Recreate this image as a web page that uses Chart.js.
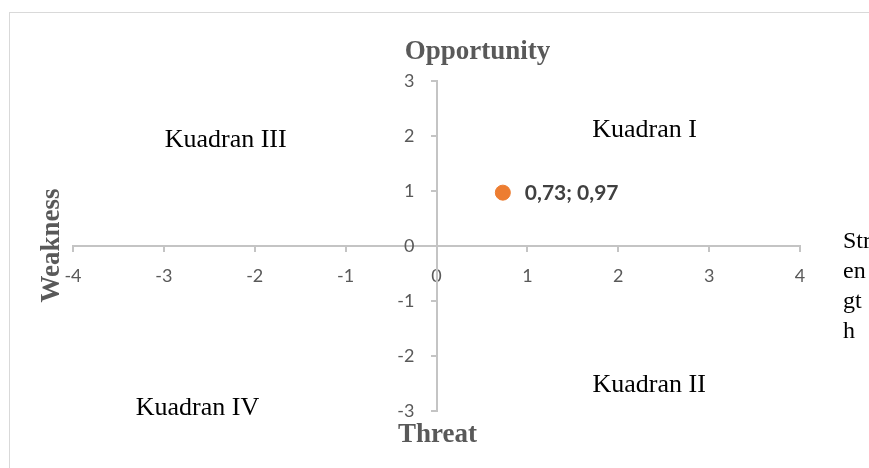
<!DOCTYPE html>
<html>
<head>
<meta charset="utf-8">
<script src="https://cdn.jsdelivr.net/npm/chart.js@4/dist/chart.umd.min.js"></script>
<style>
  html, body { margin: 0; padding: 0; background: #ffffff; }
  #wrap { width: 869px; height: 468px; position: relative; }
</style>
</head>
<body>
<div id="wrap"><canvas id="swot"></canvas></div>
<script>
// SWOT position: internal (Strength - Weakness) vs external (Opportunity - Threat)
const pointX = [0.73];
const pointY = [0.97];
const pointLabels = ['0,73; 0,97'];

const xTicks = [-4, -3, -2, -1, 0, 1, 2, 3, 4];
const yTicks = [-3, -2, -1, 0, 1, 2, 3];

const quadrantNames = ['Kuadran I', 'Kuadran II', 'Kuadran III', 'Kuadran IV'];

// where each quadrant caption sits, in axis units
const quadrantAnchor = [
  { x: 2.29, y: 2.11 },
  { x: 2.34, y: -2.53 },
  { x: -2.32, y: 1.93 },
  { x: -2.63, y: -2.95 }
];

const serif = '"Liberation Serif", "Times New Roman", serif';
const sans = 'Lato, "Open Sans", sans-serif';
const tickColor = '#595959';
const tickFont = { family: sans, size: 18 };

const frame = {
  id: 'frame',
  beforeDraw(chart) {
    const c = chart.ctx;
    c.save();
    c.fillStyle = '#ffffff';
    c.fillRect(0, 0, chart.width, chart.height);
    c.strokeStyle = '#d9d9d9';
    c.lineWidth = 1;
    c.strokeRect(9.5, 12.5, chart.width + 20, chart.height + 20);
    c.restore();
  }
};

// the vertical axis crosses at x = 0, its numbers sit to the left of the line
const yTickLabels = {
  id: 'yTickLabels',
  afterDraw(chart) {
    const c = chart.ctx;
    const xs = chart.scales.x, ys = chart.scales.y;
    const axisX = xs.getPixelForValue(0);
    c.save();
    c.fillStyle = tickColor;
    c.font = tickFont.size + 'px ' + tickFont.family;
    c.textAlign = 'right';
    c.textBaseline = 'middle';
    ys.ticks.forEach(t => {
      c.fillText(String(t.value), axisX - 22, ys.getPixelForValue(t.value));
    });
    c.restore();
  }
};

const captions = {
  id: 'captions',
  afterDraw(chart) {
    const c = chart.ctx;
    const xs = chart.scales.x, ys = chart.scales.y;
    const area = chart.chartArea;
    c.save();
    c.textBaseline = 'middle';

    // quadrant captions
    c.fillStyle = '#000000';
    c.font = '26px ' + serif;
    c.textAlign = 'center';
    quadrantNames.forEach((name, i) => {
      c.fillText(name, xs.getPixelForValue(quadrantAnchor[i].x), ys.getPixelForValue(quadrantAnchor[i].y));
    });

    // axis end captions
    c.fillStyle = '#595959';
    c.font = 'bold 27px ' + serif;
    c.fillText('Opportunity', xs.getPixelForValue(0.45), area.top - 29);
    c.fillText('Threat', xs.getPixelForValue(0.01), area.bottom + 24);

    c.save();
    c.translate(52, ys.getPixelForValue(0.01));
    c.rotate(-Math.PI / 2);
    c.fillText('Weakness', 0, 0);
    c.restore();

    c.fillStyle = '#000000';
    c.font = '24px ' + serif;
    c.textAlign = 'left';
    ['Str', 'en', 'gt', 'h'].forEach((part, i) => {
      c.fillText(part, area.right + 43, ys.getPixelForValue(0.08) + i * 30);
    });

    // value label next to the point
    const meta = chart.getDatasetMeta(0);
    c.fillStyle = '#404040';
    c.font = 'bold 21px ' + sans;
    meta.data.forEach((pt, i) => {
      c.fillText(pointLabels[i], pt.x + 22, pt.y + 1);
    });
    c.restore();
  }
};

const axisColor = '#c4c4c4';

new Chart(document.getElementById('swot'), {
  type: 'scatter',
  data: {
    datasets: [{
      data: pointX.map((x, i) => ({ x: x, y: pointY[i] })),
      backgroundColor: '#ed7d31',
      borderColor: '#ed7d31',
      pointRadius: 7.5,
      pointHoverRadius: 7.5
    }]
  },
  options: {
    responsive: true,
    maintainAspectRatio: false,
    animation: false,
    events: [],
    layout: { padding: { left: 73, right: 69, top: 81, bottom: 57 } },
    plugins: { legend: { display: false }, tooltip: { enabled: false } },
    scales: {
      x: {
        type: 'linear',
        position: { y: 0 },
        min: xTicks[0],
        max: xTicks[xTicks.length - 1],
        afterBuildTicks: s => { s.ticks = xTicks.map(v => ({ value: v })); },
        ticks: { color: tickColor, font: tickFont, padding: 14, maxRotation: 0 },
        grid: { display: true, drawOnChartArea: false, drawTicks: true, tickLength: 5, color: axisColor, lineWidth: 2 },
        border: { display: true, color: axisColor, width: 2 }
      },
      y: {
        type: 'linear',
        position: { x: 0 },
        min: yTicks[0],
        max: yTicks[yTicks.length - 1],
        afterBuildTicks: s => { s.ticks = yTicks.map(v => ({ value: v })); },
        ticks: { display: false },
        grid: { display: true, drawOnChartArea: false, drawTicks: true, tickLength: 5, color: axisColor, lineWidth: 2 },
        border: { display: true, color: axisColor, width: 2 }
      }
    }
  },
  plugins: [frame, yTickLabels, captions]
});
</script>
</body>
</html>
